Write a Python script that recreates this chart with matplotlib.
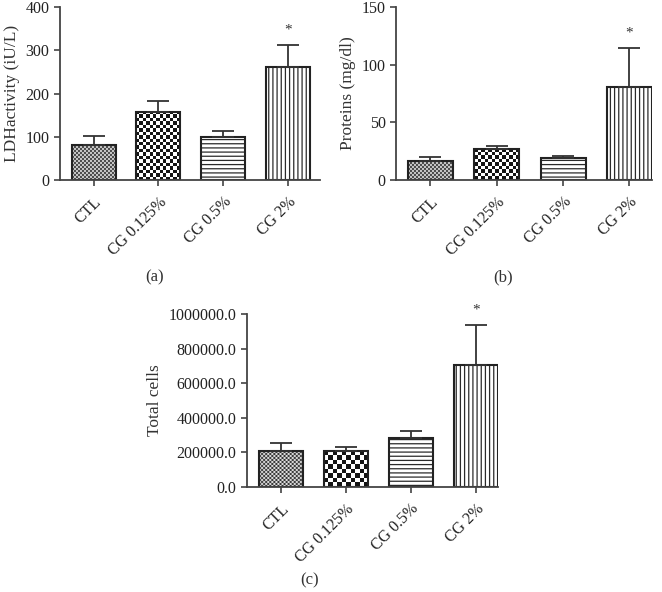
import numpy as np
import matplotlib
matplotlib.use('Agg')
import matplotlib.pyplot as plt

plt.rcParams['font.family'] = 'Liberation Serif'
plt.rcParams['hatch.linewidth'] = 0.9

groups = ['CTL', 'CG 0.125%', 'CG 0.5%', 'CG 2%']

ldh = [82, 158, 99, 262]
ldh_err = [20, 25, 15, 49]

prot = [16.7, 26.9, 18.8, 80.4]
prot_err = [3.0, 2.8, 2.0, 34.3]

cells = [206000, 207000, 286000, 708000]
cells_err = [49000, 25000, 38000, 228000]

W, H = 662, 592
fig = plt.figure(figsize=(W / 100, H / 100), dpi=100)

dark = '#333333'


def px_axes(l, r, t, b):
    return fig.add_axes([l / W, 1 - b / H, (r - l) / W, (b - t) / H])


def checker(ax, bar, cell):
    # checkerboard texture clipped to the bar
    x0, y0 = bar.get_x(), bar.get_y()
    x1, y1 = x0 + bar.get_width(), y0 + bar.get_height()
    p0 = ax.transData.transform((x0, y0))
    p1 = ax.transData.transform((x1, y1))
    nx = max(1, int(round(abs(p1[0] - p0[0]) / cell)))
    ny = max(1, int(round(abs(p1[1] - p0[1]) / cell)))
    ii, jj = np.indices((ny, nx))
    img = ((ii + jj) % 2) * 0.92 + 0.08
    im = ax.imshow(img, cmap='gray', vmin=0, vmax=1, extent=(x0, x1, y0, y1),
                   interpolation='antialiased', aspect='auto', zorder=1.5)
    im.set_clip_path(bar)


def panel(ax, vals, errs, ylim, yticks, ylabel, fmt, xr, fine, coarse):
    x = np.arange(len(vals))
    ax.set_xlim(-0.52, xr)
    ax.set_ylim(*ylim)
    bars = ax.bar(x, vals, width=0.68, color='white', edgecolor='#2a2a2a',
                  linewidth=0, zorder=1)
    checker(ax, bars[0], fine)
    checker(ax, bars[1], coarse)
    bars[2].set_hatch('----')
    bars[3].set_hatch('||||')
    ax.bar(x, vals, width=0.68, facecolor='none', edgecolor='#222222',
           linewidth=1.5, zorder=2)
    ax.errorbar(x, vals, yerr=[np.zeros(len(errs)), errs], fmt='none',
                ecolor=dark, elinewidth=1.3, capsize=8, capthick=1.3, zorder=3)
    ax.text(3, vals[3] + errs[3] + (ylim[1] - ylim[0]) * 0.05, '*',
            ha='center', va='bottom', fontsize=11, color=dark)
    for s in ['top', 'right']:
        ax.spines[s].set_visible(False)
    for s in ['left', 'bottom']:
        ax.spines[s].set_color('#444444')
        ax.spines[s].set_linewidth(1.3)
    ax.set_yticks(yticks)
    ax.set_yticklabels([fmt % v for v in yticks])
    ax.set_xticks(x)
    ax.set_xticklabels(groups, rotation=45, ha='right', rotation_mode='anchor')
    ax.tick_params(axis='both', direction='out', length=4, width=1.2,
                   colors='#444444', labelcolor='#222222', labelsize=11.5)
    ax.tick_params(axis='x', pad=6)
    ax.set_ylabel(ylabel, fontsize=12.5, color=dark, labelpad=4)


ax1 = px_axes(60, 320, 7, 180)
panel(ax1, ldh, ldh_err, (0, 400), [0, 100, 200, 300, 400],
      'LDHactivity (iU/L)', '%d', 3.5, 2.0, 3.4)

ax2 = px_axes(396, 652, 7, 180)
panel(ax2, prot, prot_err, (0, 150), [0, 50, 100, 150],
      'Proteins (mg/dl)', '%d', 3.34, 2.0, 3.4)

ax3 = px_axes(247, 498, 314, 487)
panel(ax3, cells, cells_err, (0, 1000000), [0, 200000, 400000, 600000, 800000, 1000000],
      'Total cells', '%.1f', 3.34, 2.0, 4.3)

fig.text(155 / W, 1 - 277 / H, '(a)', ha='center', va='center', fontsize=12, color=dark)
fig.text(503 / W, 1 - 277 / H, '(b)', ha='center', va='center', fontsize=12, color=dark)
fig.text(310 / W, 1 - 580 / H, '(c)', ha='center', va='center', fontsize=12, color=dark)

fig.savefig('out.png', dpi=100)
